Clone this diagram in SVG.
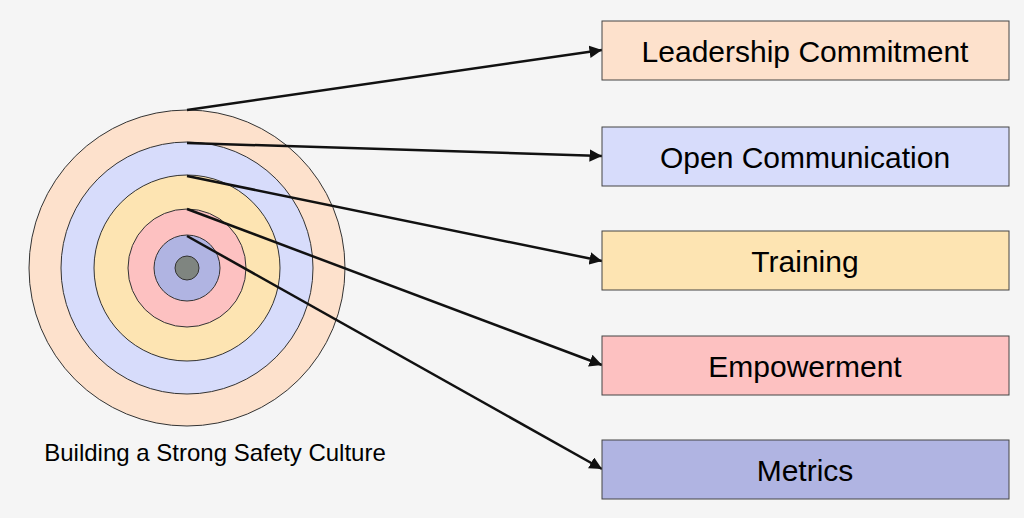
<svg xmlns="http://www.w3.org/2000/svg" width="1024" height="518" viewBox="0 0 1024 518">
<defs>
<style>
.ring{stroke:#333;stroke-width:1}
.box{stroke:#444;stroke-width:1}
.lbl{font-family:"Liberation Sans",Arial,sans-serif;font-size:30px;fill:#000;text-anchor:middle;dominant-baseline:central}
.con{stroke:#111;stroke-width:2.5;fill:none;marker-end:url(#ah)}
</style>
<marker id="ah" viewBox="0 0 10 10" refX="10" refY="5" markerWidth="5" markerHeight="5" orient="auto"><path d="M0,0L10,5L0,10z" fill="#111"/></marker>
</defs>
<rect width="1024" height="518" fill="#f5f5f5"/>
<g id="target">
<circle class="ring" cx="187" cy="268" r="158" fill="#fde1cc"/>
<circle class="ring" cx="187" cy="268" r="126" fill="#d7dcfb"/>
<circle class="ring" cx="187" cy="268" r="93" fill="#fde4b2"/>
<circle class="ring" cx="187" cy="268" r="59" fill="#fdc1c1"/>
<circle class="ring" cx="187" cy="268" r="33" fill="#b0b4e2"/>
<circle class="ring" cx="187" cy="268" r="12" fill="#7f8580"/>
<text x="215" y="452" font-family="Liberation Sans,Arial,sans-serif" font-size="24" text-anchor="middle" dominant-baseline="central">Building a Strong Safety Culture</text>
</g>
<g id="connectors">
<line class="con" x1="187" y1="110" x2="602" y2="50"/>
<line class="con" x1="187" y1="143" x2="602" y2="156"/>
<line class="con" x1="187" y1="176" x2="602" y2="261"/>
<line class="con" x1="187" y1="209" x2="602" y2="365"/>
<line class="con" x1="187" y1="236" x2="602" y2="469"/>
</g>
<g id="n1"><rect class="box" x="602" y="21" width="407" height="59" fill="#fde1cc"/><text class="lbl" x="805" y="51">Leadership Commitment</text></g>
<g id="n2"><rect class="box" x="602" y="127" width="407" height="59" fill="#d7dcfb"/><text class="lbl" x="805" y="157">Open Communication</text></g>
<g id="n3"><rect class="box" x="602" y="231" width="407" height="59" fill="#fde4b2"/><text class="lbl" x="805" y="261">Training</text></g>
<g id="n4"><rect class="box" x="602" y="336" width="407" height="59" fill="#fdc1c1"/><text class="lbl" x="805" y="366">Empowerment</text></g>
<g id="n5"><rect class="box" x="602" y="440" width="407" height="59" fill="#b0b4e2"/><text class="lbl" x="805" y="470">Metrics</text></g>
</svg>
